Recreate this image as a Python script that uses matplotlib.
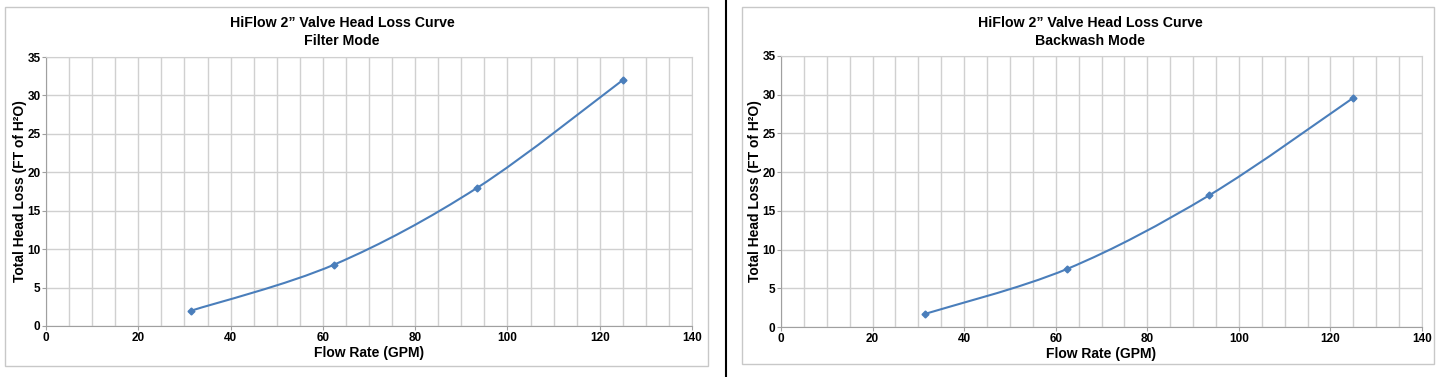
import matplotlib
matplotlib.use("Agg")
import matplotlib.pyplot as plt
from matplotlib.path import Path
from matplotlib.patches import PathPatch, Rectangle
from matplotlib.lines import Line2D
from matplotlib.ticker import MultipleLocator

plt.rcParams['font.family'] = ['Liberation Sans', 'DejaVu Sans']

flow_gpm = [31.5, 62.5, 93.5, 125.0]
filter_loss = [2.0, 8.0, 18.0, 32.0]
backwash_loss = [1.7, 7.5, 17.0, 29.6]
titles = ["HiFlow 2\u201d Valve Head Loss Curve\nFilter Mode",
          "HiFlow 2\u201d Valve Head Loss Curve\nBackwash Mode"]
x_label = "Flow Rate (GPM)"
y_label = "Total Head Loss (FT of H\u00b2O)"
x_ticks = [0, 20, 40, 60, 80, 100, 120, 140]
y_ticks = [0, 5, 10, 15, 20, 25, 30, 35]

LINE = "#4a7ebb"
GRID = "#d0d0d0"

W, H = 1444, 377
fig = plt.figure(figsize=(W / 100, H / 100), dpi=100)

def ax_rect(x0, x1, ytop, ybot):
    return [x0 / W, 1 - ybot / H, (x1 - x0) / W, (ybot - ytop) / H]

def smooth_path(xs, ys):
    # Cardinal-spline style Bezier segments through the data points (Excel "smoothed line")
    verts = [(xs[0], ys[0])]
    codes = [Path.MOVETO]
    n = len(xs)
    t = 1 / 6
    for i in range(n - 1):
        x0, y0 = xs[i], ys[i]
        x1, y1 = xs[i + 1], ys[i + 1]
        xp, yp = (xs[i - 1], ys[i - 1]) if i > 0 else (x0, y0)
        xn, yn = (xs[i + 2], ys[i + 2]) if i + 2 < n else (x1, y1)
        c1 = (x0 + (x1 - xp) * t, y0 + (y1 - yp) * t)
        c2 = (x1 - (xn - x0) * t, y1 - (yn - y0) * t)
        verts += [c1, c2, (x1, y1)]
        codes += [Path.CURVE4] * 3
    return Path(verts, codes)

panels = [
    dict(frame=(5, 708, 7, 366), axes=(46, 692, 57, 326), y=filter_loss,
         title=titles[0], tx=342),
    dict(frame=(742, 1434, 7, 364), axes=(781, 1422, 56, 327), y=backwash_loss,
         title=titles[1], tx=1090),
]

for p in panels:
    fx0, fx1, fy0, fy1 = p["frame"]
    fig.patches.append(Rectangle((fx0 / W, 1 - fy1 / H), (fx1 - fx0) / W, (fy1 - fy0) / H,
                                 transform=fig.transFigure, fill=False,
                                 edgecolor="#c8c8c8", linewidth=1.0))
    ax = fig.add_axes(ax_rect(*p["axes"]))
    ax.set_xlim(0, 140)
    ax.set_ylim(0, 35)
    ax.set_xticks(x_ticks)
    ax.set_yticks(y_ticks)
    ax.xaxis.set_minor_locator(MultipleLocator(5))
    ax.grid(True, which="both", axis="x", color=GRID, linewidth=1.0)
    ax.grid(True, which="major", axis="y", color=GRID, linewidth=1.0)
    ax.set_axisbelow(True)
    for s in ax.spines.values():
        s.set_color(GRID)
    ax.spines["left"].set_color("#a0a0a0")
    ax.spines["bottom"].set_color("#a0a0a0")
    ax.tick_params(which="both", length=3, color="#a0a0a0", labelsize=8.5, pad=1)
    ax.tick_params(which="minor", length=0)
    for lab in ax.get_xticklabels() + ax.get_yticklabels():
        lab.set_fontweight("bold")
    ax.add_patch(PathPatch(smooth_path(flow_gpm, p["y"]), facecolor="none",
                           edgecolor=LINE, linewidth=1.5))
    ax.plot(flow_gpm, p["y"], linestyle="none", marker="D", markersize=3.5,
            color=LINE)
    ax.set_xlabel(x_label, fontsize=10, fontweight="bold", labelpad=2)
    ax.set_ylabel(y_label, fontsize=10, fontweight="bold", labelpad=0)
    fig.text(p["tx"] / W, 1 - 16 / H, p["title"], ha="center", va="top",
             fontsize=10.2, fontweight="bold", linespacing=1.4)

fig.add_artist(Line2D([726 / W, 726 / W], [0, 1], transform=fig.transFigure,
                      color="black", linewidth=1.5))

fig.savefig("out.png", dpi=100)
